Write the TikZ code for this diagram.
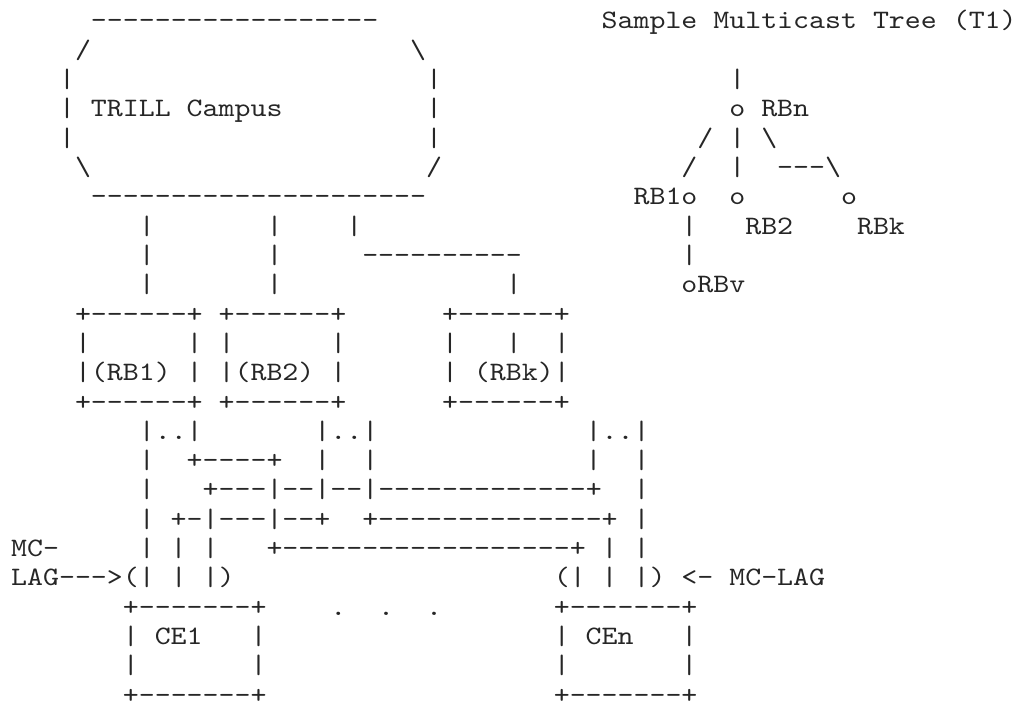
\documentclass[tikz,border=0pt]{standalone}
\usepackage{fontspec}
\newfontfamily\asciifont{lmmono10-regular.otf}[FakeStretch=1.143]
\usepackage{tikz}

% one piece of text, put by column and row
\newcommand{\asc}[3]{\node[ascii] (r#2c#1) at (#1,-#2) {#3};}
\newcommand{\bs}{\textbackslash}

\begin{document}
\begin{tikzpicture}[
    x=6pt, y=11.02pt,
    ascii/.style={font=\fontsize{10}{11}\asciifont, anchor=base west, inner sep=0pt, outer sep=0pt, text=black!85}
]
\useasboundingbox (1.8pt,10.9pt) rectangle (386.4pt,-253.05pt);

% TRILL campus cloud
\asc{6}{0}{------------------}
\asc{5}{1}{/}
\asc{26}{1}{\bs}
\asc{4}{2}{|}
\asc{27}{2}{|}
\asc{4}{3}{| TRILL Campus}
\asc{27}{3}{|}
\asc{4}{4}{|}
\asc{27}{4}{|}
\asc{5}{5}{\bs}
\asc{27}{5}{/}
\asc{6}{6}{---------------------}

% sample tree
\asc{38}{0}{Sample Multicast Tree (T1)}
\asc{46}{2}{|}
\asc{46}{3}{o RBn}
\asc{44}{4}{/ | \bs}
\asc{43}{5}{/}
\asc{46}{5}{|}
\asc{49}{5}{---\bs}
\asc{40}{6}{RB1o}
\asc{46}{6}{o}
\asc{53}{6}{o}
\asc{43}{7}{|}
\asc{47}{7}{RB2}
\asc{54}{7}{RBk}
\asc{43}{8}{|}
\asc{43}{9}{oRBv}

% links down to the RBridges
\asc{9}{7}{|}
\asc{17}{7}{|}
\asc{22}{7}{|}
\asc{9}{8}{|}
\asc{17}{8}{|}
\asc{23}{8}{----------}
\asc{9}{9}{|}
\asc{17}{9}{|}
\asc{32}{9}{|}

% RBridges
\asc{5}{10}{+------+ +------+}
\asc{28}{10}{+------+}
\asc{5}{11}{|}
\asc{12}{11}{| |}
\asc{21}{11}{|}
\asc{28}{11}{|}
\asc{32}{11}{|}
\asc{35}{11}{|}
\asc{5}{12}{|(RB1) | |(RB2) |}
\asc{28}{12}{| (RBk)|}
\asc{5}{13}{+------+ +------+}
\asc{28}{13}{+------+}

% links to the CEs
\asc{9}{14}{|..|}
\asc{20}{14}{|..|}
\asc{37}{14}{|..|}
\asc{9}{15}{|}
\asc{12}{15}{+----+}
\asc{20}{15}{|}
\asc{23}{15}{|}
\asc{37}{15}{|}
\asc{40}{15}{|}
\asc{9}{16}{|}
\asc{13}{16}{+---|--|--|-------------+}
\asc{40}{16}{|}
\asc{9}{17}{| +-|---|--+}
\asc{23}{17}{+--------------+}
\asc{40}{17}{|}
\asc{1}{18}{MC-}
\asc{9}{18}{| | |}
\asc{17}{18}{+------------------+}
\asc{38}{18}{| |}
\asc{1}{19}{LAG--->(| | |)}
\asc{35}{19}{(| | |) <- MC-LAG}

% CEs
\asc{8}{20}{+-------+}
\asc{21}{20}{.}
\asc{24}{20}{.}
\asc{27}{20}{.}
\asc{35}{20}{+-------+}
\asc{8}{21}{| CE1}
\asc{16}{21}{|}
\asc{35}{21}{| CEn}
\asc{43}{21}{|}
\asc{8}{22}{|}
\asc{16}{22}{|}
\asc{35}{22}{|}
\asc{43}{22}{|}
\asc{8}{23}{+-------+}
\asc{35}{23}{+-------+}

\end{tikzpicture}
\end{document}
